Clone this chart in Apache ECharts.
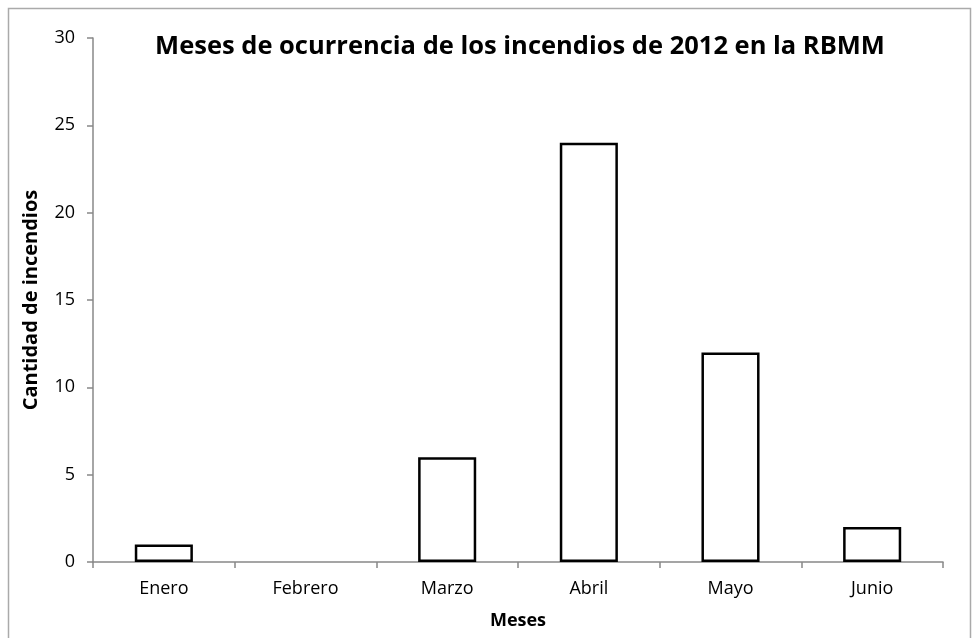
<!DOCTYPE html>
<html lang="es" style="height: 100%">
<head>
    <meta charset="utf-8">
</head>
<body style="height: 100%; margin: 0">
<div id="container" style="height: 100%"></div>
<script type="text/javascript" src="https://fastly.jsdelivr.net/npm/echarts@6/dist/echarts.min.js"></script>
<script type="text/javascript">
    const meses = ['Enero', 'Febrero', 'Marzo', 'Abril', 'Mayo', 'Junio'];
    const incendios = [1, 0, 6, 24, 12, 2];

    var dom = document.getElementById('container');
    var myChart = echarts.init(dom, null, { renderer: 'canvas' });
    var font = '"Open Sans", Lato, sans-serif';

    var option = {
        backgroundColor: '#fff',
        animation: false,
        title: {
            text: 'Meses de ocurrencia de los incendios de 2012 en la RBMM',
            left: 515,
            textAlign: 'center',
            top: 29,
            textStyle: { fontFamily: font, fontWeight: 'bold', fontSize: 25.5, color: '#000' }
        },
        graphic: [{
            type: 'rect',
            shape: { x: 8.5, y: 8.5, width: 962, height: 640 },
            style: { fill: 'none', stroke: '#aaa', lineWidth: 1.5 },
            silent: true
        }],
        grid: { left: 93, right: 30, top: 38, bottom: 76 },
        xAxis: {
            type: 'category',
            data: meses,
            name: 'Meses',
            nameLocation: 'middle',
            nameGap: 50,
            nameTextStyle: { fontFamily: font, fontWeight: 'bold', fontSize: 18, color: '#000' },
            axisLine: { lineStyle: { color: '#888', width: 1.5 } },
            axisTick: { show: true, length: 6, lineStyle: { color: '#888', width: 1.5 } },
            axisLabel: { fontFamily: font, fontSize: 18, color: '#000', margin: 18 }
        },
        yAxis: {
            type: 'value',
            min: 0,
            max: 30,
            interval: 5,
            name: 'Cantidad de incendios',
            nameLocation: 'middle',
            nameGap: 52,
            nameTextStyle: { fontFamily: font, fontWeight: 'bold', fontSize: 20, color: '#000' },
            axisLine: { show: true, lineStyle: { color: '#888', width: 1.5 } },
            axisTick: { show: true, length: 6, lineStyle: { color: '#888', width: 1.5 } },
            axisLabel: { fontFamily: font, fontSize: 18, color: '#000', margin: 18 },
            splitLine: { show: false }
        },
        series: [{
            type: 'bar',
            data: incendios.map(function (v) {
                return v === 0 ? { value: v, itemStyle: { borderWidth: 0 } } : v;
            }),
            barWidth: '41%',
            itemStyle: { color: '#fff', borderColor: '#000', borderWidth: 2.5 }
        }]
    };

    myChart.setOption(option);
    window.addEventListener('resize', myChart.resize);
</script>
</body>
</html>
